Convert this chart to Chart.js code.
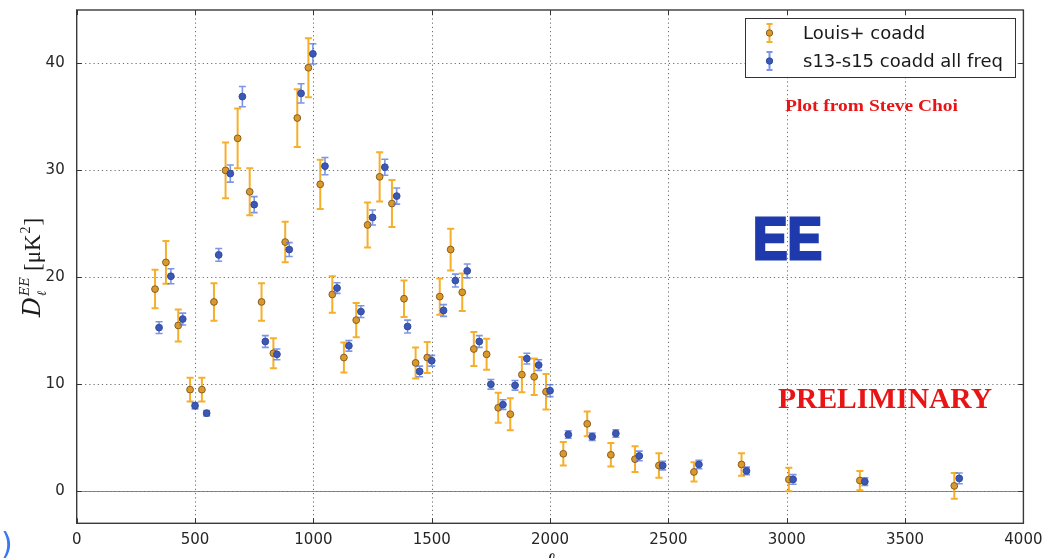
<!DOCTYPE html>
<html>
<head>
<meta charset="utf-8">
<script src="https://cdn.jsdelivr.net/npm/chart.js@4"></script>
<style>
  html, body { margin: 0; padding: 0; background: #fff; overflow: hidden; }
  #wrap { width: 1043px; height: 558px; position: relative; }
</style>
</head>
<body>
<div id="wrap"><canvas id="c" width="1043" height="558"></canvas></div>
<script>
// Tick positions
const xTicks = [0, 500, 1000, 1500, 2000, 2500, 3000, 3500, 4000];
const yTicks = [0, 10, 20, 30, 40];

// Louis+ coadd band powers (multipole, D_ell, 1-sigma error)
const louisEll = [331, 377, 429, 479, 529, 580, 629, 680, 731, 781, 831, 881, 932, 979, 1029,
  1080, 1129, 1181, 1229, 1280, 1332, 1383, 1432, 1481, 1534, 1580, 1629, 1678, 1732, 1781,
  1832, 1881, 1933, 1983, 2056, 2157, 2257, 2359, 2460, 2608, 2809, 3009, 3309, 3708];
const louisDl = [18.9, 21.4, 15.5, 9.5, 9.5, 17.7, 30.0, 33.0, 28.0, 17.7, 12.9, 23.3, 34.9, 39.6, 28.7,
  18.4, 12.5, 16.0, 24.9, 29.4, 26.9, 18.0, 12.0, 12.5, 18.2, 22.6, 18.6, 13.3, 12.8, 7.8,
  7.2, 10.9, 10.7, 9.3, 3.5, 6.3, 3.4, 3.0, 2.4, 1.8, 2.5, 1.1, 1.0, 0.5];
const louisErr = [1.8, 2.0, 1.5, 1.1, 1.1, 1.75, 2.6, 2.8, 2.2, 1.75, 1.4, 1.9, 2.7, 2.75, 2.3,
  1.7, 1.4, 1.6, 2.1, 2.3, 2.2, 1.7, 1.45, 1.45, 1.7, 1.95, 1.75, 1.6, 1.45, 1.4,
  1.5, 1.65, 1.7, 1.65, 1.1, 1.15, 1.1, 1.2, 1.15, 0.9, 1.05, 1.1, 0.9, 1.2];

// s13-s15 coadd, all frequencies
const s13Ell = [348, 398, 448, 500, 549, 600, 649, 700, 750, 797, 846, 898, 948, 998, 1049,
  1100, 1150, 1201, 1250, 1302, 1352, 1398, 1449, 1500, 1550, 1600, 1650, 1701, 1750, 1801,
  1852, 1902, 1952, 2000, 2077, 2178, 2278, 2377, 2476, 2629, 2830, 3027, 3330, 3729];
const s13Dl = [15.3, 20.1, 16.1, 8.0, 7.3, 22.1, 29.7, 36.9, 26.8, 14.0, 12.8, 22.6, 37.2, 40.9, 30.4,
  19.0, 13.6, 16.8, 25.6, 30.3, 27.6, 15.4, 11.2, 12.2, 16.9, 19.7, 20.6, 14.0, 10.0, 8.1,
  9.9, 12.4, 11.8, 9.4, 5.3, 5.1, 5.4, 3.3, 2.4, 2.5, 1.9, 1.1, 0.9, 1.2];
const s13Err = [0.55, 0.7, 0.55, 0.3, 0.25, 0.6, 0.8, 0.95, 0.75, 0.55, 0.5, 0.65, 0.9, 0.95, 0.8,
  0.5, 0.5, 0.55, 0.7, 0.75, 0.75, 0.6, 0.5, 0.5, 0.55, 0.6, 0.65, 0.55, 0.45, 0.45,
  0.45, 0.5, 0.5, 0.55, 0.35, 0.35, 0.35, 0.45, 0.4, 0.4, 0.35, 0.45, 0.35, 0.5];

const seriesNames = ['Louis+ coadd', 's13-s15 coadd all freq'];

const ORANGE_BAR = 'rgba(245,166,20,0.9)';
const ORANGE_FILL = 'rgb(222,152,40)';
const ORANGE_EDGE = 'rgb(130,95,40)';
const BLUE_BAR = 'rgba(80,115,220,0.75)';
const BLUE_FILL = 'rgb(58,88,180)';
const BLUE_EDGE = 'rgb(50,75,160)';

function toPoints(xs, ys) { return xs.map((x, i) => ({ x: x, y: ys[i] })); }

// Vertical error bars with caps, drawn underneath each dataset's markers
const errorBars = {
  id: 'errorBars',
  beforeDatasetDraw(chart, args) {
    const ds = chart.data.datasets[args.index];
    if (!ds.errors) return;
    const ys = chart.scales.y;
    const ctx = chart.ctx;
    ctx.save();
    ctx.strokeStyle = ds.errColor;
    ctx.lineWidth = ds.errWidth;
    const cap = ds.capHalf;
    args.meta.data.forEach((pt, i) => {
      const v = ds.data[i].y, e = ds.errors[i];
      const yt = ys.getPixelForValue(v + e);
      const yb = ys.getPixelForValue(v - e);
      ctx.beginPath();
      ctx.moveTo(pt.x, yt); ctx.lineTo(pt.x, yb);
      ctx.moveTo(pt.x - cap, yt); ctx.lineTo(pt.x + cap, yt);
      ctx.moveTo(pt.x - cap, yb); ctx.lineTo(pt.x + cap, yb);
      ctx.stroke();
    });
    ctx.restore();
  }
};

// Dotted grid, zero line, frame and inward tick marks
const frameGrid = {
  id: 'frameGrid',
  beforeDatasetsDraw(chart) {
    const { ctx, chartArea: a, scales: { x, y } } = chart;
    ctx.save();
    ctx.lineWidth = 1;
    ctx.strokeStyle = 'rgba(60,60,60,0.75)';
    ctx.setLineDash([1.2, 3]);
    xTicks.forEach(t => {
      const px = Math.round(x.getPixelForValue(t)) + 0.5;
      if (px <= a.left + 1 || px >= a.right - 1) return;
      ctx.beginPath(); ctx.moveTo(px, a.top); ctx.lineTo(px, a.bottom); ctx.stroke();
    });
    yTicks.forEach(t => {
      const py = Math.round(y.getPixelForValue(t)) + 0.5;
      ctx.beginPath(); ctx.moveTo(a.left, py); ctx.lineTo(a.right, py); ctx.stroke();
    });
    ctx.setLineDash([]);
    // zero line
    ctx.strokeStyle = 'rgba(110,110,110,0.8)';
    const y0 = Math.round(y.getPixelForValue(0)) + 0.5;
    ctx.beginPath(); ctx.moveTo(a.left, y0); ctx.lineTo(a.right, y0); ctx.stroke();
    // inward ticks on all sides
    ctx.strokeStyle = '#333';
    const tl = 5;
    xTicks.forEach(t => {
      const px = Math.round(x.getPixelForValue(t)) + 0.5;
      ctx.beginPath();
      ctx.moveTo(px, a.bottom); ctx.lineTo(px, a.bottom - tl);
      ctx.moveTo(px, a.top); ctx.lineTo(px, a.top + tl);
      ctx.stroke();
    });
    yTicks.forEach(t => {
      const py = Math.round(y.getPixelForValue(t)) + 0.5;
      ctx.beginPath();
      ctx.moveTo(a.left, py); ctx.lineTo(a.left + tl, py);
      ctx.moveTo(a.right, py); ctx.lineTo(a.right - tl, py);
      ctx.stroke();
    });
    // frame
    ctx.strokeStyle = '#3a3a3a';
    ctx.lineWidth = 1.4;
    ctx.strokeRect(a.left, a.top, a.right - a.left, a.bottom - a.top);
    ctx.restore();
  }
};

function fitText(ctx, text, x, y, width, stroke) {
  const w = ctx.measureText(text).width;
  ctx.save();
  ctx.translate(x, y);
  ctx.scale(width / w, 1);
  ctx.fillText(text, 0, 0);
  if (stroke) { ctx.strokeText(text, 0, 0); }
  ctx.restore();
}

// Legend, annotations and axis titles
const overlay = {
  id: 'overlay',
  afterDraw(chart) {
    const ctx = chart.ctx;
    ctx.save();

    // legend box
    ctx.fillStyle = '#fff';
    ctx.fillRect(745.5, 18.5, 270, 59);
    ctx.strokeStyle = '#333';
    ctx.lineWidth = 1;
    ctx.strokeRect(745.5, 18.5, 270, 59);
    const items = [
      { y: 33, bar: ORANGE_BAR, fill: ORANGE_FILL, edge: ORANGE_EDGE },
      { y: 61, bar: BLUE_BAR, fill: BLUE_FILL, edge: BLUE_EDGE }
    ];
    items.forEach((it, i) => {
      const sx = 769.5;
      ctx.strokeStyle = it.bar;
      ctx.lineWidth = 2;
      ctx.beginPath();
      ctx.moveTo(sx, it.y - 9); ctx.lineTo(sx, it.y + 9);
      ctx.moveTo(sx - 3, it.y - 9); ctx.lineTo(sx + 3, it.y - 9);
      ctx.moveTo(sx - 3, it.y + 9); ctx.lineTo(sx + 3, it.y + 9);
      ctx.stroke();
      ctx.beginPath();
      ctx.arc(sx, it.y, 3.2, 0, Math.PI * 2);
      ctx.fillStyle = it.fill; ctx.fill();
      ctx.strokeStyle = it.edge; ctx.lineWidth = 1; ctx.stroke();
      ctx.fillStyle = '#1a1a1a';
      ctx.font = '18px "DejaVu Sans"';
      ctx.textBaseline = 'middle';
      ctx.textAlign = 'left';
      ctx.fillText(seriesNames[i], 803, it.y + 1);
    });

    // annotations
    ctx.textBaseline = 'alphabetic';
    ctx.textAlign = 'left';
    ctx.fillStyle = 'rgb(232,20,22)';
    ctx.font = 'bold 17px "Liberation Serif"';
    fitText(ctx, 'Plot from Steve Choi', 785, 111, 173);
    ctx.font = 'bold 29px "Liberation Serif"';
    fitText(ctx, 'PRELIMINARY', 778, 408, 214);
    ctx.fillStyle = 'rgb(30,58,172)';
    ctx.strokeStyle = 'rgb(30,58,172)';
    ctx.lineWidth = 3;
    ctx.lineJoin = 'miter';
    ctx.font = 'bold 59px "Liberation Sans"';
    fitText(ctx, 'EE', 753, 259, 69, true);

    // y-axis title: D_ell^EE [muK^2]
    ctx.save();
    ctx.translate(40, 317);
    ctx.rotate(-Math.PI / 2);
    ctx.fillStyle = '#1a1a1a';
    ctx.font = 'italic 25px "DejaVu Serif"';
    ctx.fillText('D', 0, 0);
    let cx = ctx.measureText('D').width + 1;
    ctx.font = 'italic 13px "DejaVu Serif"';
    ctx.fillText('EE', cx, -11);
    ctx.fillText('\u2113', cx, 6);
    cx += ctx.measureText('EE').width + 6;
    ctx.font = '23px "Liberation Serif"';
    ctx.fillText('[\u03bcK', cx, 0);
    cx += ctx.measureText('[\u03bcK').width + 1;
    ctx.font = '14px "Liberation Serif"';
    ctx.fillText('2', cx, -10);
    cx += ctx.measureText('2').width + 1;
    ctx.font = '23px "Liberation Serif"';
    ctx.fillText(']', cx, 0);
    ctx.restore();

    // x-axis title
    ctx.fillStyle = '#1a1a1a';
    ctx.font = 'italic 22px "DejaVu Serif"';
    ctx.textAlign = 'center';
    ctx.fillText('\u2113', 550, 568);

    // panel tag at the lower-left edge
    ctx.fillStyle = 'rgb(58,120,240)';
    ctx.font = '30px "DejaVu Sans"';
    ctx.textAlign = 'left';
    ctx.fillText('b)', -18, 554);

    ctx.restore();
  }
};

new Chart(document.getElementById('c'), {
  type: 'scatter',
  data: {
    datasets: [
      {
        label: seriesNames[0],
        data: toPoints(louisEll, louisDl),
        errors: louisErr,
        errColor: ORANGE_BAR, errWidth: 2, capHalf: 3.5,
        backgroundColor: ORANGE_FILL,
        borderColor: ORANGE_EDGE,
        borderWidth: 1,
        pointRadius: 3.4,
        order: 2
      },
      {
        label: seriesNames[1],
        data: toPoints(s13Ell, s13Dl),
        errors: s13Err,
        errColor: BLUE_BAR, errWidth: 1.6, capHalf: 3.5,
        backgroundColor: BLUE_FILL,
        borderColor: BLUE_EDGE,
        borderWidth: 1,
        pointRadius: 3.4,
        order: 1
      }
    ]
  },
  options: {
    responsive: false,
    animation: false,
    devicePixelRatio: 1,
    layout: { padding: { top: 10, right: 19.6, left: 0, bottom: 0 } },
    plugins: { legend: { display: false }, tooltip: { enabled: false } },
    scales: {
      x: {
        type: 'linear', min: 0, max: 4000,
        afterBuildTicks: s => { s.ticks = xTicks.map(v => ({ value: v })); },
        afterFit: s => { s.height = 34.7; s.paddingLeft = 0; s.paddingRight = 0; },
        grid: { display: false },
        border: { display: false },
        ticks: {
          font: { family: 'DejaVu Sans', size: 15 }, color: '#262626', padding: 0,
          maxRotation: 0, autoSkip: false, callback: v => String(v)
        }
      },
      y: {
        type: 'linear', min: -3, max: 45,
        afterBuildTicks: s => { s.ticks = yTicks.map(v => ({ value: v })); },
        afterFit: s => { s.width = 76.7; s.paddingTop = 0; s.paddingBottom = 0; },
        grid: { display: false },
        border: { display: false },
        ticks: { font: { family: 'DejaVu Sans', size: 15 }, color: '#262626', padding: 4, callback: v => String(v) }
      }
    }
  },
  plugins: [frameGrid, errorBars, overlay]
});
</script>
</body>
</html>
